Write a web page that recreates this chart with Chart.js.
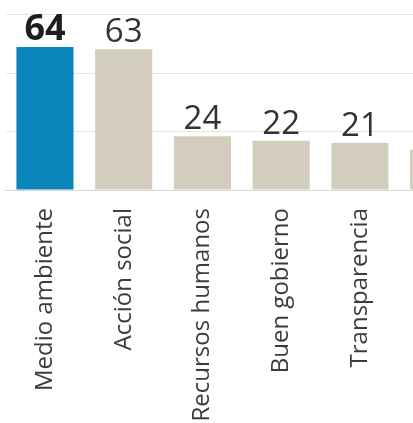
<!DOCTYPE html>
<html>
<head>
<meta charset="utf-8">
<script src="https://cdn.jsdelivr.net/npm/chart.js@4/dist/chart.umd.min.js"></script>
<style>
  html, body { margin: 0; padding: 0; background: #fff; overflow: hidden; }
  #wrap { position: absolute; left: 0; top: 0; width: 478px; height: 423px; }
</style>
</head>
<body>
<div id="wrap"><canvas id="chartTemas"></canvas></div>
<script>
// categorias y valores
var categorias = ['Medio ambiente', 'Acción social', 'Recursos humanos', 'Buen gobierno', 'Transparencia', ''];
var valores = [64, 63, 24, 22, 21, 18];
var colores = ['#0a86bd', '#d3cdbd', '#d3cdbd', '#d3cdbd', '#d3cdbd', '#d3cdbd'];
var lineasGuia = [0, 26.1, 52.2, 78.3];

var etiquetasValor = {
    id: 'etiquetasValor',
    afterDatasetsDraw: function(chart) {
        var ctx = chart.ctx;
        var meta = chart.getDatasetMeta(0);
        ctx.save();
        ctx.textAlign = 'center';
        ctx.textBaseline = 'alphabetic';
        meta.data.forEach(function(bar, i) {
            ctx.font = i === 0 ? 'bold 36px "Open Sans"' : '33px "Open Sans"';
            ctx.fillStyle = i === 0 ? '#1e1e1e' : '#333';
            ctx.fillText(valores[i], bar.x, bar.y - 7);
        });
        ctx.restore();
    }
};

document.addEventListener('DOMContentLoaded', function() {
    var ctx = document.getElementById('chartTemas').getContext('2d');
    new Chart(ctx, {
        type: 'bar',
        data: {
            labels: categorias,
            datasets: [{
                data: valores,
                backgroundColor: colores,
                borderWidth: 0,
                categoryPercentage: 1,
                barPercentage: 0.725
            }]
        },
        options: {
            responsive: true,
            maintainAspectRatio: false,
            animation: false,
            layout: { padding: { left: 5.6, right: 0, top: 0, bottom: 0 } },
            plugins: {
                legend: { display: false },
                tooltip: { enabled: false }
            },
            scales: {
                x: {
                    grid: { display: false },
                    border: { display: true, color: '#d8d8d8', width: 1 },
                    ticks: {
                        minRotation: 90,
                        maxRotation: 90,
                        padding: 10,
                        color: '#3c3c3c',
                        font: { family: 'Open Sans', size: 24 }
                    },
                    afterFit: function(scale) { scale.height = 233; }
                },
                y: {
                    min: 0,
                    max: 85,
                    border: { display: false },
                    grid: { color: '#e6e6e6', drawTicks: false },
                    ticks: { display: false },
                    afterBuildTicks: function(scale) {
                        scale.ticks = lineasGuia.map(function(v) { return { value: v }; });
                    },
                    afterFit: function(scale) { scale.width = 0; }
                }
            }
        },
        plugins: [etiquetasValor]
    });
});
</script>
</body>
</html>
